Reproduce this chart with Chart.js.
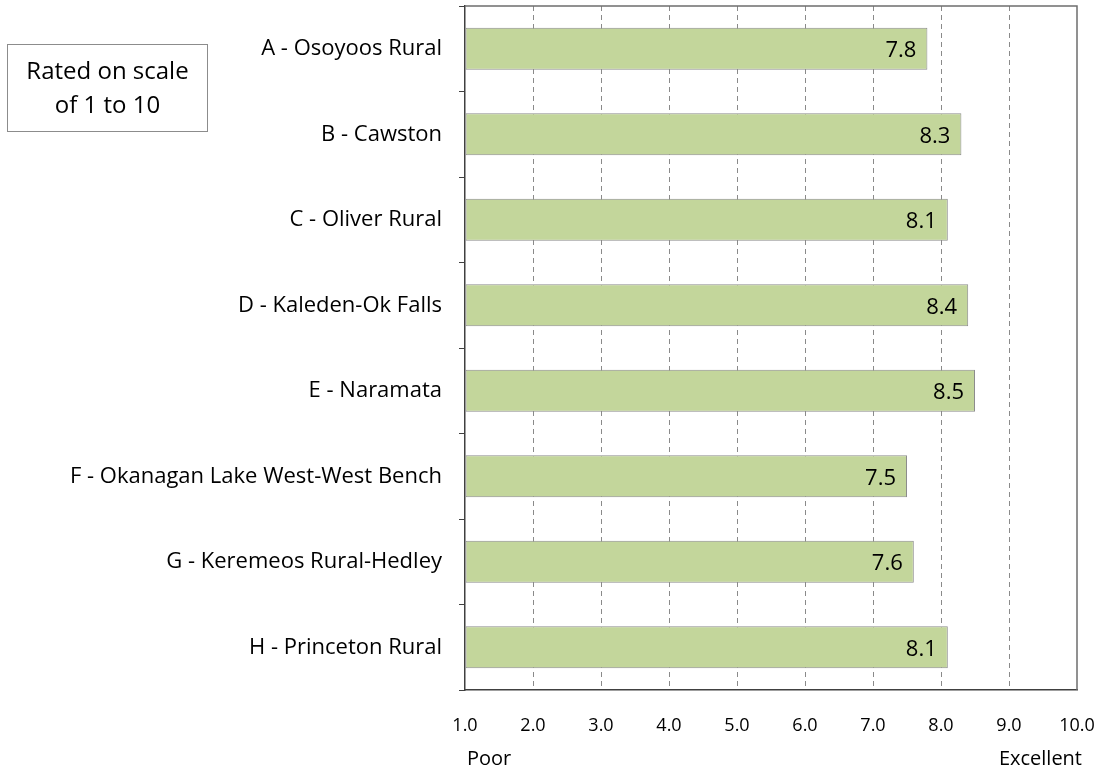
<!DOCTYPE html>
<html>
<head>
<meta charset="utf-8">
<script src="https://cdn.jsdelivr.net/npm/chart.js@4"></script>
<style>
  body { margin: 0; background: #fff; }
  #wrap { position: relative; width: 1100px; height: 773px; }
  #note {
    position: absolute; left: 7px; top: 44px; width: 201px; height: 88px;
    border: 1px solid #8c8c8c; box-sizing: border-box;
    font-family: "Open Sans", sans-serif; font-size: 24px; line-height: 34px;
    text-align: center; padding-top: 8px; color: #000;
  }
</style>
</head>
<body>
<div id="wrap">
  <canvas id="ratingChart" width="1100" height="773"></canvas>
  <div id="note">Rated on scale<br>of 1 to 10</div>
</div>
<script>
// Chart data
const categories = [
    'A - Osoyoos Rural',
    'B - Cawston',
    'C - Oliver Rural',
    'D - Kaleden-Ok Falls',
    'E - Naramata',
    'F - Okanagan Lake West-West Bench',
    'G - Keremeos Rural-Hedley',
    'H - Princeton Rural'
];
const ratings = [7.8, 8.3, 8.1, 8.4, 8.5, 7.5, 7.6, 8.1];
const scaleMin = 1;
const scaleMax = 10;
const endLabels = ['Poor', 'Excellent'];

const FONT = '"Open Sans", sans-serif';

// value labels inside the end of each bar
const valueLabels = {
    id: 'valueLabels',
    afterDatasetsDraw(chart) {
        const ctx = chart.ctx;
        const meta = chart.getDatasetMeta(0);
        ctx.save();
        ctx.font = '22px ' + FONT;
        ctx.fillStyle = '#000';
        ctx.textAlign = 'right';
        ctx.textBaseline = 'middle';
        meta.data.forEach((bar, i) => {
            ctx.fillText(ratings[i].toFixed(1), bar.x - 11, bar.y + 2);
        });
        ctx.restore();
    }
};

// top and right edges of the plot area, plus Poor / Excellent
const frameAndEnds = {
    id: 'frameAndEnds',
    afterDraw(chart) {
        const ctx = chart.ctx;
        const a = chart.chartArea;
        const x = chart.scales.x;
        ctx.save();
        ctx.strokeStyle = '#6e6e6e';
        ctx.lineWidth = 1.5;
        ctx.beginPath();
        ctx.moveTo(a.left, a.top);
        ctx.lineTo(a.right, a.top);
        ctx.lineTo(a.right, a.bottom);
        ctx.stroke();

        ctx.font = '20px ' + FONT;
        ctx.fillStyle = '#000';
        ctx.textBaseline = 'middle';
        ctx.textAlign = 'left';
        ctx.fillText(endLabels[0], x.getPixelForValue(scaleMin) + 2, 759);
        ctx.textAlign = 'right';
        ctx.fillText(endLabels[1], x.getPixelForValue(scaleMax) + 5, 759);
        ctx.restore();
    }
};

new Chart(document.getElementById('ratingChart'), {
    type: 'bar',
    data: {
        labels: categories,
        datasets: [{
            data: ratings,
            base: scaleMin,
            backgroundColor: '#c3d69b',
            borderColor: '#8c8c8c',
            borderWidth: 1,
            borderSkipped: false,
            barPercentage: 0.49,
            categoryPercentage: 1
        }]
    },
    options: {
        indexAxis: 'y',
        responsive: false,
        animation: false,
        events: [],
        layout: { padding: { top: 6, right: 23, left: 0, bottom: 0 } },
        plugins: { legend: { display: false }, tooltip: { enabled: false } },
        scales: {
            x: {
                min: scaleMin,
                max: scaleMax,
                afterFit: s => { s.height = 83; s.paddingLeft = 0; s.paddingRight = 0; },
                ticks: {
                    stepSize: 1,
                    padding: 25,
                    color: '#000',
                    font: { family: FONT, size: 18 },
                    callback: v => Number(v).toFixed(1)
                },
                grid: {
                    drawTicks: false,
                    color: c => (c.tick && (c.tick.value === scaleMin || c.tick.value === scaleMax)) ? 'rgba(0,0,0,0)' : '#8a8a8a',
                    lineWidth: 1
                },
                border: { display: true, color: '#404040', width: 1.5, dash: [5, 4] }
            },
            y: {
                afterFit: s => { s.width = 465; s.paddingTop = 0; s.paddingBottom = 0; },
                ticks: {
                    padding: 17,
                    color: '#000',
                    font: { family: FONT, size: 22 }
                },
                grid: {
                    offset: true,
                    drawOnChartArea: false,
                    drawTicks: true,
                    tickLength: 6,
                    color: '#404040'
                },
                border: { display: true, color: '#404040', width: 1.5 }
            }
        }
    },
    plugins: [valueLabels, frameAndEnds]
});
</script>
</body>
</html>
